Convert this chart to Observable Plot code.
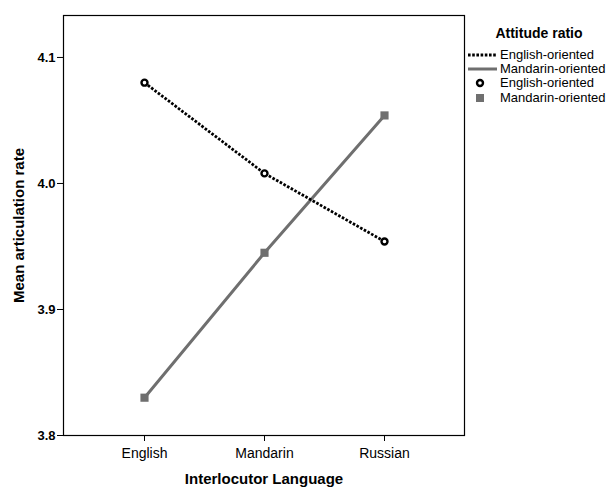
<!DOCTYPE html>
<html>
<head>
<meta charset="utf-8">
<script src="https://cdn.jsdelivr.net/npm/d3@7"></script>
<script src="https://cdn.jsdelivr.net/npm/@observablehq/plot@0.6"></script>
<style>
  body { margin: 0; background: #fff; }
  #wrap { position: relative; width: 614px; height: 487px; font-family: "Liberation Sans", Arial, sans-serif; }
  #wrap svg.plot { position: absolute; left: 0; top: 0; }
  g[aria-label="x-axis label"] text, g[aria-label="y-axis label"] text { font-weight: bold; font-size: 15px; }
  #legend { position: absolute; left: 464px; top: 22px; width: 150px; color: #000; font-size: 13px; }
  #legend .title { text-align: center; font-weight: bold; font-size: 14px; height: 26px; line-height: 22px; }
  #legend .row { display: flex; align-items: center; height: 14px; line-height: 14px; white-space: nowrap; }
  #legend .row svg { flex: none; }
</style>
</head>
<body>
<div id="wrap"></div>
<script>
const languages = ["English", "Mandarin", "Russian"];
const seriesNames = ["English-oriented", "Mandarin-oriented"];
const englishOriented = [4.080, 4.008, 3.954];
const mandarinOriented = [3.830, 3.945, 4.054];
const yTicks = [3.8, 3.9, 4.0, 4.1];
const legendTitle = "Attitude ratio";
const xTitle = "Interlocutor Language";
const yTitle = "Mean articulation rate";

const rows = [];
languages.forEach((lang, i) => {
  rows.push({lang, series: seriesNames[0], value: englishOriented[i]});
  rows.push({lang, series: seriesNames[1], value: mandarinOriented[i]});
});
const eo = rows.filter(d => d.series === seriesNames[0]);
const mo = rows.filter(d => d.series === seriesNames[1]);

const grey = "#6f6f6f";

const chart = Plot.plot({
  width: 614,
  height: 487,
  marginLeft: 63,
  marginRight: 150,
  marginTop: 15,
  marginBottom: 52,
  style: {fontFamily: "'Liberation Sans', Arial, sans-serif", fontSize: "14px", color: "#000", background: "transparent"},
  x: {type: "point", domain: languages, padding: 0.664},
  y: {domain: [3.8, 4.1333]},
  marks: [
    Plot.frame({stroke: "#000", strokeWidth: 1.2}),
    Plot.axisY({ticks: yTicks, tickFormat: d3.format(".1f"), tickSize: 6, tickPadding: 2, label: yTitle, labelAnchor: "center", labelArrow: "none", labelOffset: 50, fontWeight: "bold", fontSize: 13}),
    Plot.axisX({tickSize: 6, tickPadding: 7, label: xTitle, labelAnchor: "center", labelArrow: "none", labelOffset: 48, fontSize: 14}),
    Plot.line(mo, {x: "lang", y: "value", stroke: grey, strokeWidth: 3}),
    Plot.line(eo, {x: "lang", y: "value", stroke: "#000", strokeWidth: 2.8, strokeDasharray: "2.6,1.6", strokeLinecap: "butt"}),
    Plot.dot(mo, {x: "lang", y: "value", symbol: "square", r: 4.6, fill: grey, stroke: "none"}),
    Plot.dot(eo, {x: "lang", y: "value", symbol: "circle", r: 3, fill: "#fff", stroke: "#000", strokeWidth: 2.4})
  ]
});
chart.classList.add("plot");
document.getElementById("wrap").appendChild(chart);

// Legend
const legend = d3.select("#wrap").append("div").attr("id", "legend");
legend.append("div").attr("class", "title").text(legendTitle);
const items = [
  {label: seriesNames[0], kind: "dotted"},
  {label: seriesNames[1], kind: "solid"},
  {label: seriesNames[0], kind: "circle"},
  {label: seriesNames[1], kind: "square"}
];
items.forEach((it, i) => {
  const row = legend.append("div").attr("class", "row");
  if (i >= 2) row.style("height", "14.5px");
  const s = row.append("svg").attr("width", 36).attr("height", 14);
  if (it.kind === "dotted") {
    s.append("line").attr("x1", 4).attr("x2", 33).attr("y1", 7).attr("y2", 7)
      .attr("stroke", "#000").attr("stroke-width", 2.8).attr("stroke-dasharray", "2.6,1.6");
  } else if (it.kind === "solid") {
    s.append("line").attr("x1", 4).attr("x2", 33).attr("y1", 7).attr("y2", 7)
      .attr("stroke", grey).attr("stroke-width", 3);
  } else if (it.kind === "circle") {
    s.append("circle").attr("cx", 16).attr("cy", 7).attr("r", 3).attr("fill", "#fff")
      .attr("stroke", "#000").attr("stroke-width", 2.4);
  } else {
    s.append("rect").attr("x", 12).attr("y", 3).attr("width", 8).attr("height", 8).attr("fill", grey);
  }
  row.append("span").text(it.label);
});
</script>
</body>
</html>
